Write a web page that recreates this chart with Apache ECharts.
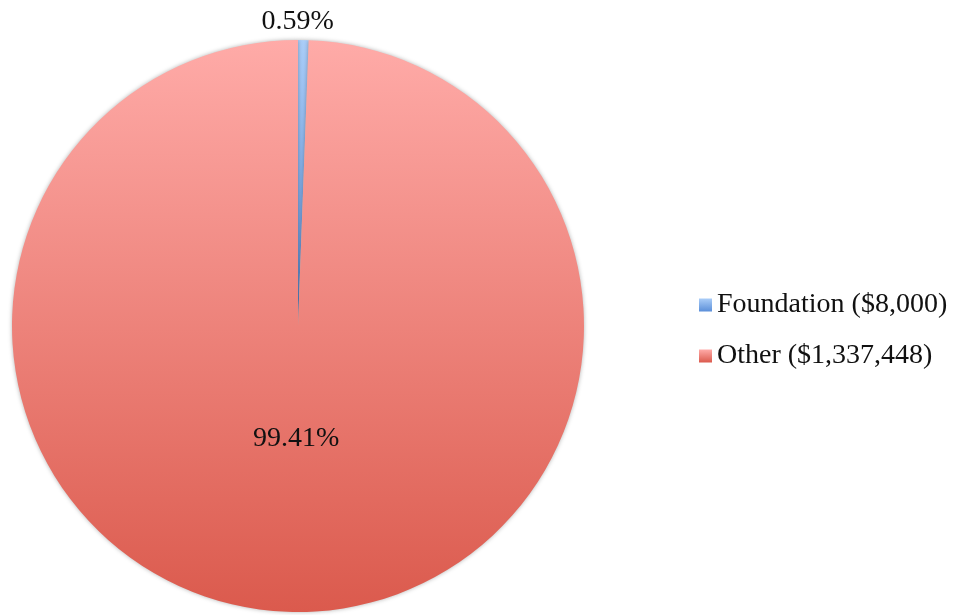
<!DOCTYPE html>
<html>
<head>
<meta charset="utf-8">
<script src="https://cdn.jsdelivr.net/npm/echarts@6/dist/echarts.min.js"></script>
<style>
  html, body { margin: 0; padding: 0; background: #fff; }
  #chart { width: 958px; height: 615px; }
</style>
</head>
<body>
<div id="chart"></div>
<script>
// data
var names = ['Foundation ($8,000)', 'Other ($1,337,448)'];
var amounts = [8000, 1337448];
var pctLabels = ['0.59%', '99.41%'];

// colours (top -> bottom of each slice)
var gradTop = ['#aacdf8', '#ffaba8'];
var gradBottom = ['#5b8fd9', '#db5a4d'];

var dom = document.getElementById('chart');
var myChart = echarts.init(dom);

var seriesData = [];
for (var i = 0; i < names.length; i++) {
  seriesData.push({
    name: names[i],
    value: amounts[i],
    itemStyle: {
      color: new echarts.graphic.LinearGradient(0, 0, 0, 1, [
        { offset: 0, color: gradTop[i] },
        { offset: 1, color: gradBottom[i] }
      ])
    },
    label: {
      formatter: pctLabels[i],
      // 0.59% sits above the pie, 99.41% in the lower half
      offset: i == 0 ? [-3, -158] : [1, -33]
    }
  });
}

var option = {
  animation: false,
  legend: {
    orient: 'vertical',
    left: 694,
    top: 286,
    itemWidth: 13,
    itemHeight: 13,
    itemGap: 23,
    icon: 'rect',
    data: names,
    textStyle: {
      fontFamily: 'Liberation Serif',
      fontSize: 28,
      color: '#111'
    }
  },
  series: [{
    type: 'pie',
    center: [298, 326],
    radius: [0, 286],
    startAngle: 90,
    clockwise: true,
    silent: true,
    itemStyle: {
      borderWidth: 0,
      shadowBlur: 4,
      shadowColor: 'rgba(0,0,0,0.3)'
    },
    label: {
      show: true,
      position: 'inside',
      fontFamily: 'Liberation Serif',
      fontSize: 28,
      color: '#111'
    },
    labelLine: { show: false },
    data: seriesData
  }]
};

myChart.setOption(option);
</script>
</body>
</html>
